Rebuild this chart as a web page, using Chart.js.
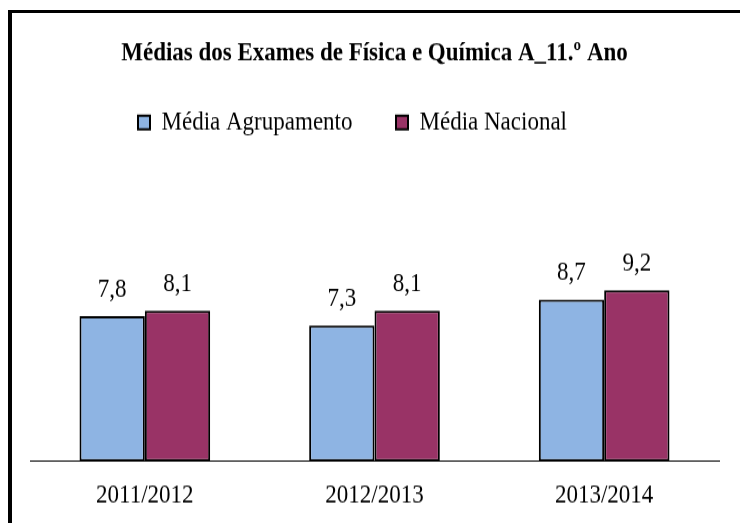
<!DOCTYPE html>
<html>
<head>
<meta charset="utf-8">
<script src="https://cdn.jsdelivr.net/npm/chart.js@4/dist/chart.umd.min.js"></script>
<style>
  html, body { margin: 0; padding: 0; background: #fff; overflow: hidden; }
  #wrap { position: absolute; left: 0; top: 0; width: 740px; height: 460px;
          transform: scale(1, 1.137); transform-origin: 0 0; }
  #frame { position: absolute; left: 8px; top: 10px; right: 0; bottom: -10px;
           border-top: 3px solid #000; border-left: 4px solid #000; pointer-events: none; }
</style>
</head>
<body>
<div id="wrap"><canvas id="exams-chart"></canvas></div>
<div id="frame"></div>
<script>
// data
const categories = ['2011/2012', '2012/2013', '2013/2014'];
const seriesNames = ['Média Agrupamento', 'Média Nacional'];
const mediaAgrupamento = [7.8, 7.3, 8.7];
const mediaNacional = [8.1, 8.1, 9.2];

const serif = "'Liberation Serif', 'Times New Roman', serif";
Chart.defaults.color = '#000';
Chart.defaults.font.family = serif;

// value labels above each bar, with decimal comma
const valueLabels = {
  id: 'valueLabels',
  afterDatasetsDraw(chart) {
    const ctx = chart.ctx;
    ctx.save();
    ctx.font = '23px ' + serif;
    ctx.fillStyle = '#000';
    ctx.textAlign = 'center';
    ctx.textBaseline = 'alphabetic';
    chart.data.datasets.forEach((ds, i) => {
      chart.getDatasetMeta(i).data.forEach((bar, j) => {
        ctx.fillText(String(ds.data[j]).replace('.', ','), bar.x, bar.y - 17);
      });
    });
    ctx.restore();
  }
};

// legend sits a bit left of centre and tight under the title
const legendShift = {
  id: 'legendShift',
  afterLayout(chart) {
    const lg = chart.legend;
    lg.left -= 22; lg.right -= 22;
    lg.top -= 47.5; lg.bottom -= 47.5;
  }
};

let examsCanvas = document.getElementById('exams-chart');

let examsData = {
  labels: categories,
  datasets: [{
    label: seriesNames[0],
    data: mediaAgrupamento,
    backgroundColor: '#8EB4E3',
    borderColor: '#000',
    borderWidth: 2,
    borderSkipped: false
  }, {
    label: seriesNames[1],
    data: mediaNacional,
    backgroundColor: '#993366',
    borderColor: '#000',
    borderWidth: 2,
    borderSkipped: false
  }]
};

let examsOptions = {
  responsive: true,
  maintainAspectRatio: false,
  animation: false,
  layout: { padding: { left: 30, right: 21, top: 0, bottom: 0 } },
  datasets: { bar: { categoryPercentage: 0.569, barPercentage: 1 } },
  scales: {
    x: {
      grid: { display: false, drawTicks: false },
      border: { display: true, color: '#000', width: 1 },
      ticks: { padding: 16.7, font: { size: 23 }, color: '#000' },
      afterFit: (scale) => { scale.height = 54.3; }
    },
    y: { display: false, min: 0, max: 14 }
  },
  plugins: {
    title: {
      display: true,
      text: 'Médias dos Exames de Física e Química A_11.º Ano',
      font: { size: 23, weight: 'bold' },
      color: '#000',
      padding: { top: 33, bottom: 39.6 }
    },
    legend: {
      position: 'top',
      labels: { boxWidth: 12, boxHeight: 12, padding: 43.5, font: { size: 23 }, color: '#000' }
    },
    tooltip: { enabled: false }
  }
};

let examsChart = new Chart(examsCanvas, {
  type: 'bar',
  data: examsData,
  options: examsOptions,
  plugins: [valueLabels, legendShift]
});
</script>
</body>
</html>
